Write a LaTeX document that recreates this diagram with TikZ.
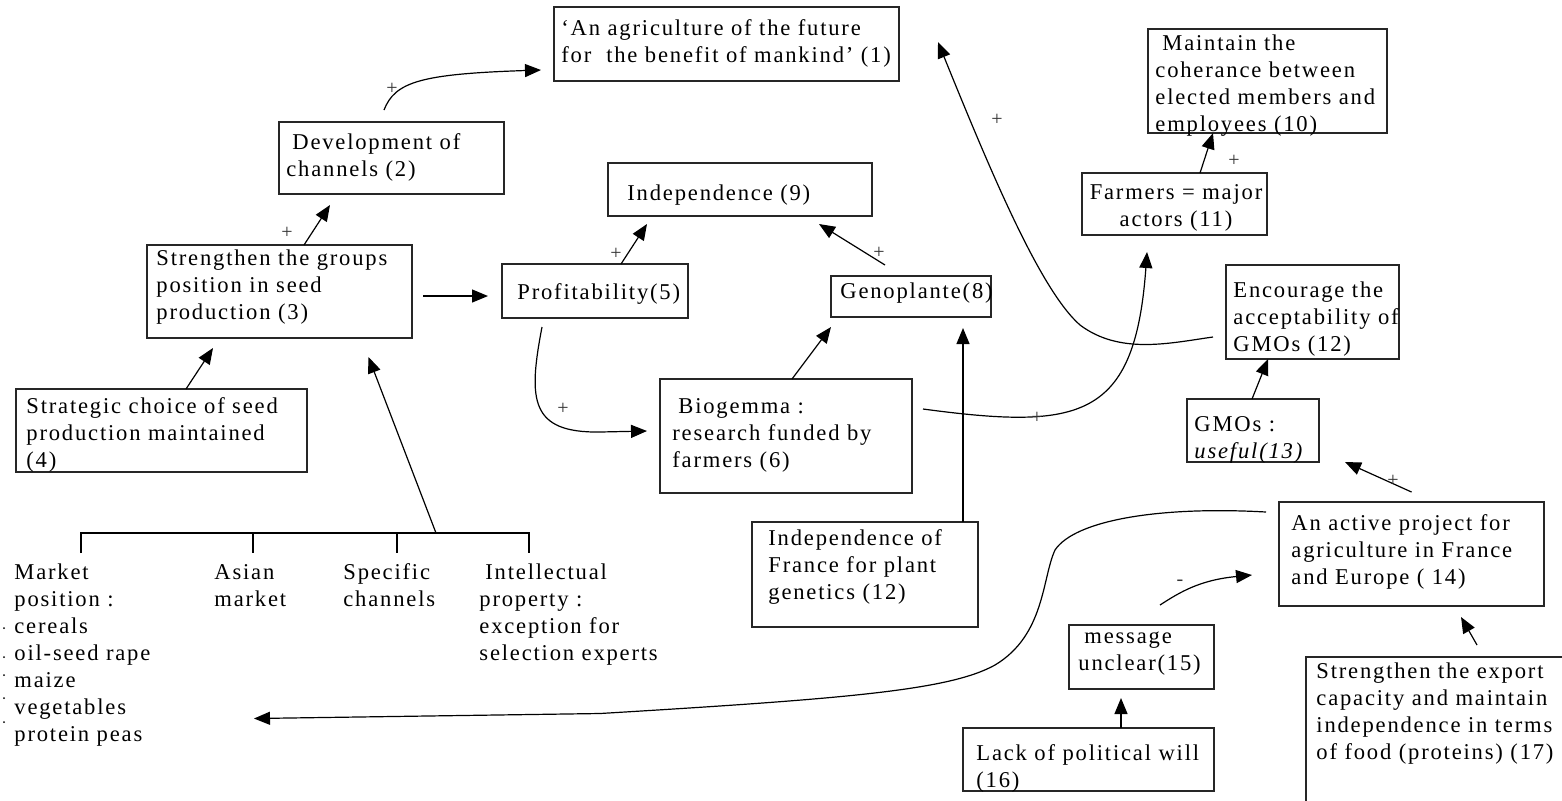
\documentclass[tikz,border=0pt]{standalone}
\usepackage{fontspec}
\setmainfont{Liberation Serif}[LetterSpace=8]
\usetikzlibrary{calc,arrows.meta}
\newcommand\lns[1]{\begin{tabular}[t]{@{}l@{}}#1\end{tabular}}
\newcommand\clns[1]{\begin{tabular}[t]{@{}c@{}}#1\end{tabular}}
\begin{document}
\begin{tikzpicture}[x=0.5pt,y=-0.5pt,
  box/.style={draw=black!85,line width=0.6pt,anchor=north west,inner sep=0pt,outer sep=0pt},
  txt/.style={anchor=base west,inner sep=0pt,font=\fontsize{11.3}{13.5}\selectfont},
  sign/.style={inner sep=0pt,font=\fontsize{10}{11}\selectfont,text=black!80},
  arr/.style={line width=0.6pt,-{Triangle[length=8pt,width=6.5pt]}},
  link/.style={line width=0.6pt}]
\useasboundingbox (0,0) rectangle (1562,800);

% boxes
\node[box,minimum width=172.5pt,minimum height=37pt] (b1) at (554,7) {};
\node[box,minimum width=112.5pt,minimum height=36pt] (b2) at (279,122) {};
\node[box,minimum width=132.5pt,minimum height=46.5pt] (b3) at (147,245) {};
\node[box,minimum width=145.5pt,minimum height=41.5pt] (b4) at (16,389) {};
\node[box,minimum width=93pt,minimum height=27pt] (b5) at (502,264) {};
\node[box,minimum width=132pt,minimum height=26.5pt] (b9) at (608,163) {};
\node[box,minimum width=80pt,minimum height=20.5pt] (b8) at (831,276) {};
\node[box,minimum width=126pt,minimum height=57pt] (b6) at (660,379) {};
\node[box,minimum width=113pt,minimum height=52.5pt] (bF) at (752,522) {};
\node[box,minimum width=119.5pt,minimum height=52pt] (b10) at (1148,29) {};
\node[box,minimum width=92.5pt,minimum height=31pt] (b11) at (1082,173) {};
\node[box,minimum width=86.5pt,minimum height=47pt] (b12) at (1226,265) {};
\node[box,minimum width=66pt,minimum height=31.5pt] (b13) at (1187,399) {};
\node[box,minimum width=132.5pt,minimum height=52pt] (b14) at (1279,502) {};
\node[box,minimum width=72.5pt,minimum height=32pt] (b15) at (1069,625) {};
\node[box,minimum width=125.5pt,minimum height=31.5pt] (b16) at (963,728) {};
\node[box,minimum width=147pt,minimum height=96.5pt] (b17) at (1306,657) {};

% texts
\node[txt] (t1) at (561,35) {\lns{‘An agriculture of the future\\for~~the benefit of mankind’ (1)}};
\node[txt] (t2) at (286,149) {\lns{\hspace*{3pt}Development of\\channels (2)}};
\node[txt] (t3) at (156,265) {\lns{Strengthen the groups\\position in seed\\production (3)}};
\node[txt] (t4) at (26,413) {\lns{Strategic choice of seed\\production maintained\\(4)}};
\node[txt] (t5) at (517,299) {Profitability(5)};
\node[txt] (t9) at (627,200) {Independence (9)};
\node[txt] (t8) at (840,298) {Genoplante(8)};
\node[txt] (t6) at (672,413) {\lns{\hspace*{3pt}Biogemma :\\research funded by\\farmers (6)}};
\node[txt] (tF) at (768,545) {\lns{Independence of\\France for plant\\genetics (12)}};
\node[txt] (t10) at (1155,50) {\lns{\hspace*{3.5pt}Maintain the\\coherance between\\elected members and\\employees (10)}};
\node[txt,anchor=base] (t11) at (1176,199) {\clns{Farmers = major\\actors (11)}};
\node[txt] (t12) at (1233,297) {\lns{Encourage the\\acceptability of\\GMOs (12)}};
\node[txt] (t13) at (1194,431) {\lns{GMOs :\\\textit{useful(13)}}};
\node[txt] (t14) at (1291,530) {\lns{An active project for\\agriculture in France\\and Europe ( 14)}};
\node[txt] (t17) at (1316,678) {\lns{Strengthen the export\\capacity and maintain\\independence in terms\\of food (proteins) (17)}};
\node[txt] (t15) at (1078,643) {\lns{\hspace*{3pt}message\\unclear(15)}};
\node[txt] (t16) at (976,760) {\lns{Lack of political will\\(16)}};
\node[txt] (tm) at (14,579) {\lns{Market\\position :\\cereals\\oil-seed rape\\maize\\vegetables\\protein peas}};
\node[txt] (ta) at (214,579) {\lns{Asian\\market}};
\node[txt] (ts) at (343,579) {\lns{Specific\\channels}};
\node[txt] (ti) at (479,579) {\lns{\hspace*{3pt}Intellectual\\property :\\exception for\\selection experts}};

% bullet remnants
\foreach \yy in {628,657,675,698,722} \fill (4,\yy) circle[radius=0.5pt];

% bracket
\coordinate (bk) at (436,533);
\draw[link] (81,553) -- (81,533) -- (529,533) -- (529,553);
\draw[link] (253,533) -- (253,553);
\draw[link] (397,533) -- (397,553);

% connectors
\draw[arr] ($(b2.north)+(-7.5,-12)$) .. controls +(11,-28) and +(-121,4) .. ($(b1.west)+(-13,26)$);
\draw[arr] ($(b3.north)+(24.5,0)$) -- ($(b2.south)+(-61.5,11)$);
\draw[arr] ($(b3.east)+(11,4.5)$) -- ($(b5.west)+(-14,5)$);
\draw[arr] ($(b4.north)+(24.5,0)$) -- ($(b3.south)+(-66.5,10)$);
\draw[arr] (bk) -- ($(b3.south)+(89,19)$);
\draw[arr] ($(b5.north)+(26,0)$) -- ($(b9.south)+(-93,8)$);
\draw[arr] ($(b8.north)+(-26,-11)$) -- ($(b9.south)+(79,8)$);
\draw[arr] ($(b5.south)+(-53,9)$) .. controls +(-14,73) and +(-70,1) .. ($(b6.west)+(-60,-4)$) -- ($(b6.west)+(-13,-5)$);
\draw[arr] ($(b6.north)+(6,0)$) -- ($(b8.south)+(-80,10)$);
\draw[arr] ($(bF.north)+(98,0)$) -- ($(b8.south)+(52,11)$);
\draw[arr] ($(b6.east)+(11,-27)$) .. controls +(157,21) and +(-12,168) .. ($(b11.south)+(-27.5,17)$);
\draw[arr] ($(b12.west)+(-13,25)$) .. controls +(-43,6) and +(40,30) .. ($(b12.west)+(-146,13)$) .. controls +(-40,-35) and +(52,128) .. ($(b1.east)+(39,-2)$);
\draw[arr] ($(b11.north)+(25.5,0)$) -- ($(b10.south)+(-54.5,0)$);
\draw[arr] ($(b13.north)+(-1,0)$) -- ($(b12.south)+(-44.5,0)$);
\draw[arr] ($(b14.north)+(0,-10)$) -- ($(b13.south east)+(26,0)$);
\draw[arr] ($(b17.north)+(24,-12)$) -- ($(b14.south)+(49.5,11)$);
\draw[arr] ($(b16.north)+(32.5,0)$) -- ($(b15.south)+(-20.5,9)$);
\draw[arr] ($(b15.north)+(18.5,-20)$) .. controls +(20,-13) and +(-52,5) .. ($(b14.west)+(-27,21)$);
\draw[arr] ($(b14.north west)+(-13,10)$) .. controls +(-106,-6) and +(20,-30) .. ($(b14.north west)+(-224,48)$) .. controls +(-13,28) and +(50,-30) .. ($(b14.north west)+(-284,163)$) .. controls +(-45,25) and +(250,-15) .. ($(tm.south west)+(586,-36)$) -- ($(tm.south west)+(240,-31)$);

% signs
\node[sign] (s1) at (392,89) {+};
\node[sign] (s2) at (287,233) {+};
\node[sign] (s3) at (616,254) {+};
\node[sign] (s4) at (879,253) {+};
\node[sign] (s5) at (563,409) {+};
\node[sign] (s6) at (1037,418) {+};
\node[sign] (s7) at (997,120) {+};
\node[sign] (s8) at (1234,161) {+};
\node[sign] (s9) at (1393,481) {+};
\node[sign] (s10) at (1180,583) {-};
\end{tikzpicture}
\end{document}
